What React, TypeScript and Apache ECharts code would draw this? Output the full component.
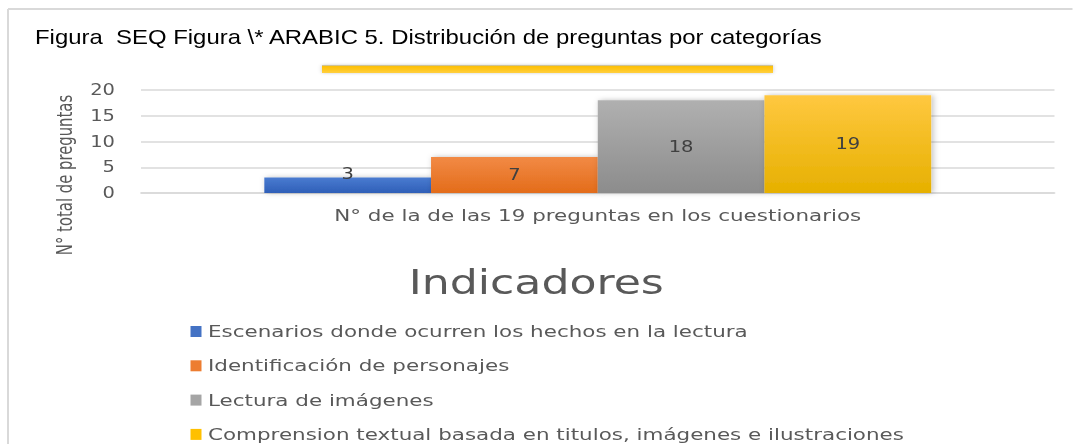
import React, { useEffect, useRef } from "react";
import * as echarts from "echarts";

const categories = ["N° de la de las 19 preguntas en los cuestionarios"];
const seriesNames = [
  "Escenarios donde ocurren los hechos en la lectura",
  "Identificación de personajes",
  "Lectura de imágenes",
  "Comprension textual basada en titulos, imágenes e ilustraciones",
];
const seriesValues = [3, 7, 18, 19];
const yTicks = { min: 0, max: 20, interval: 5 };
const colorsTop = ["#4a7bd0", "#f28a45", "#b0b0b0", "#ffc840"];
const colorsBottom = ["#2f5fb8", "#e36c1a", "#8c8c8c", "#e6b000"];
const legendColors = ["#4472c4", "#ed7d31", "#a5a5a5", "#ffc000"];

const WIDE = "'DejaVu Sans', sans-serif";
// The reference image is horizontally stretched; the chart is drawn narrower and stretched by CSS.
const S = 1.3;
const W = 1073;
const H = 444;
const px = (v: number) => v / S;

export default function App() {
  const ref = useRef<HTMLDivElement>(null);
  useEffect(() => {
    if (!ref.current) return;
    const chart = echarts.init(ref.current, undefined, { renderer: "svg" });
    const series = seriesNames.map((name, i) => ({
      name,
      type: "bar",
      barGap: "0%",
      barCategoryGap: "27%",
      data: [
        {
          value: seriesValues[i],
          label:
            seriesValues[i] < 5
              ? { position: "top", distance: -4 }
              : { position: "inside" },
        },
      ],
      itemStyle: {
        color: new echarts.graphic.LinearGradient(0, 0, 0, 1, [
          { offset: 0, color: colorsTop[i] },
          { offset: 1, color: colorsBottom[i] },
        ]),
        shadowBlur: 5,
        shadowColor: "rgba(0,0,0,0.25)",
        shadowOffsetX: 1.5,
      },
      label: {
        show: true,
        color: "#404040",
        fontFamily: WIDE,
        fontSize: 15,
      },
    }));
    chart.setOption({
      animation: false,
      backgroundColor: "#ffffff",
      color: legendColors,
      title: {
        text: "Indicadores",
        left: "center",
        top: 260,
        textStyle: {
          fontFamily: WIDE,
          fontSize: 34,
          fontWeight: "normal",
          color: "#595959",
        },
      },
      legend: {
        orient: "vertical",
        left: px(184),
        top: 318,
        height: 170,
        itemWidth: px(11),
        itemHeight: 11,
        itemGap: 17.3,
        icon: "rect",
        data: seriesNames.map((n, i) => ({ name: n, itemStyle: { color: legendColors[i] } })),
        textStyle: { fontFamily: WIDE, fontSize: 16.5, color: "#595959" },
      },
      grid: { left: px(141), right: px(18), top: 90, bottom: 251, containLabel: false },
      xAxis: {
        type: "category",
        data: categories,
        name: categories[0],
        nameLocation: "middle",
        nameGap: 14,
        nameTextStyle: { fontFamily: WIDE, fontSize: 16.5, color: "#595959" },
        axisLabel: { show: false },
        axisTick: { show: false },
        axisLine: { lineStyle: { color: "#d9d9d9", width: 1.5 } },
      },
      yAxis: {
        type: "value",
        min: yTicks.min,
        max: yTicks.max,
        interval: yTicks.interval,
        axisLabel: { fontFamily: WIDE, fontSize: 15, color: "#595959", margin: px(26) },
        splitLine: { lineStyle: { color: "#d9d9d9", width: 1.5 } },
        axisLine: { show: false },
        axisTick: { show: false },
      },
      graphic: [
        {
          type: "line",
          shape: { x1: px(8), y1: 9, x2: px(W + 10), y2: 9 },
          style: { stroke: "#d9d9d9", lineWidth: 2 },
          silent: true,
        },
        {
          type: "line",
          shape: { x1: px(8), y1: 9, x2: px(8), y2: H + 10 },
          style: { stroke: "#d9d9d9", lineWidth: 2 / S },
          silent: true,
        },
        {
          type: "text",
          x: px(35),
          y: 37,
          scaleX: 1.139 / S,
          style: {
            text: "Figura  SEQ Figura \\* ARABIC 5. Distribución de preguntas por categorías",
            font: "21px 'Liberation Sans', Arial, sans-serif",
            fill: "#000000",
            verticalAlign: "middle",
          },
        },
        {
          type: "rect",
          shape: { x: px(322), y: 65, width: px(451), height: 8 },
          style: {
            fill: new echarts.graphic.LinearGradient(0, 0, 0, 1, [
              { offset: 0, color: "#b8c4d8" },
              { offset: 0.2, color: "#ffc000" },
              { offset: 1, color: "#ffcf40" },
            ]),
            shadowBlur: 3,
            shadowColor: "rgba(0,0,0,0.2)",
          },
        },
        {
          type: "text",
          x: px(65),
          y: 175,
          rotation: Math.PI / 2,
          style: {
            text: "N° total de preguntas",
            font: "16.5px 'Liberation Sans Narrow', 'DejaVu Sans Condensed', sans-serif",
            fill: "#595959",
            align: "center",
            verticalAlign: "middle",
          },
        },
      ],
      series,
    });
    return () => chart.dispose();
  }, []);
  return (
    <div style={{ position: "fixed", left: 0, top: 0, width: W, height: H, overflow: "hidden" }}>
      <div
        ref={ref}
        style={{
          width: W / S,
          height: H,
          transform: `scaleX(${S})`,
          transformOrigin: "0 0",
        }}
      />
    </div>
  );
}
